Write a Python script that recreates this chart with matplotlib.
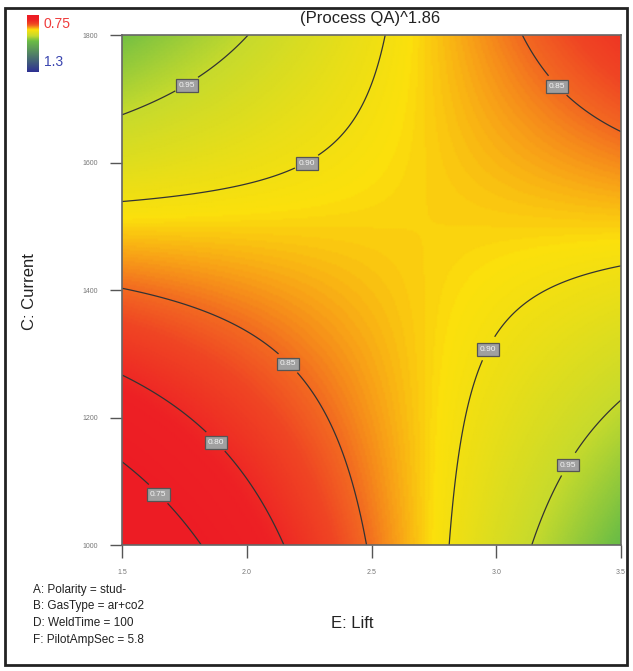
import numpy as np
import matplotlib
matplotlib.use("Agg")
import matplotlib.pyplot as plt
from matplotlib.colors import LinearSegmentedColormap, Normalize
from matplotlib.patches import Rectangle

plt.rcParams['font.family'] = ['Liberation Sans', 'DejaVu Sans']

# fitted 2FI model in coded units (E: Lift, C: Current)
coef_names = ['Intercept', 'E', 'C', 'CE']
coef_values = [0.879, 0.030, 0.026, -0.121]

lift_range = [1.5, 3.5]
current_range = [1000, 1800]
x_ticks = [1.5, 2.0, 2.5, 3.0, 3.5]
y_ticks = [1000, 1200, 1400, 1600, 1800]

contour_levels = [0.75, 0.80, 0.85, 0.90, 0.95]
label_spots = [(1.66, 1086), (1.89, 1168), (2.17, 1287), (3.26, 1726),
               (2.24, 1601), (2.98, 1306), (1.75, 1729), (3.28, 1129)]

factor_settings = ['A: Polarity = stud-', 'B: GasType = ar+co2',
                   'D: WeldTime = 100', 'F: PilotAmpSec = 5.8']

legend_low, legend_high = 0.75, 1.3

# colour ramp, value -> colour
ramp_values = [0.75, 0.79, 0.83, 0.85, 0.87, 0.89, 0.95, 1.00, 1.30]
ramp_colors = ['#ed1c24', '#ed2024', '#ef4523', '#f26a21', '#f8a516',
               '#fbe00c', '#c6da2d', '#6cbd45', '#2e3192']
pos = [(v - legend_low) / (legend_high - legend_low) for v in ramp_values]
cmap = LinearSegmentedColormap.from_list('de', list(zip(pos, ramp_colors)))
norm = Normalize(legend_low, legend_high)

x = np.linspace(*lift_range, 300)
y = np.linspace(*current_range, 300)
X, Y = np.meshgrid(x, y)
Xc = (X - 2.5) / 1.0
Yc = (Y - 1400) / 400.0
b0, bE, bC, bCE = coef_values
Z = b0 + bE * Xc + bC * Yc + bCE * Xc * Yc

fig = plt.figure(figsize=(6.33, 6.71), dpi=100)
ax = fig.add_axes([122 / 633, 1 - 545 / 671, 499 / 633, 510 / 671])
ax.pcolormesh(X, Y, Z, cmap=cmap, norm=norm, shading='gouraud')
cs = ax.contour(X, Y, Z, levels=contour_levels, colors='#333333', linewidths=0.9)
labels = ax.clabel(cs, fmt='%.2f', fontsize=6, manual=label_spots, inline=True)
for t in labels:
    t.set_rotation(0)
    t.set_verticalalignment('center_baseline')
    t.set_color('#f4f4f4')
    t.set_bbox(dict(boxstyle='square,pad=0.35', fc='#a0a0a0', ec='#555555', lw=0.9))

ax.set_xlim(*lift_range)
ax.set_ylim(*current_range)
ax.set_xticks(x_ticks)
ax.set_xticklabels(['%.1f' % v for v in x_ticks])
ax.set_yticks(y_ticks)
ax.tick_params(direction='out', length=9, width=1, color='#555555',
               labelsize=5, labelcolor='#777777', pad=8)
for s in ax.spines.values():
    s.set_color('#666666')
    s.set_linewidth(1.2)

fig.text(370 / 633, 1 - 18 / 671, '(Process QA)^1.86', fontsize=12,
         ha='center', va='center', color='#222222')
fig.text(352 / 633, 1 - 623 / 671, 'E: Lift', fontsize=12,
         ha='center', va='center', color='#222222')
fig.text(30 / 633, 1 - 292 / 671, 'C: Current', fontsize=12, rotation=90,
         ha='center', va='center', color='#222222')

for i, line in enumerate(factor_settings):
    fig.text(33 / 633, 1 - (590 + 16.5 * i) / 671, line, fontsize=8.5,
             va='center', ha='left', color='#222222')

# colour legend
lax = fig.add_axes([27 / 633, 1 - 72 / 671, 12 / 633, 57 / 671])
lax.imshow(np.linspace(0, 1, 100)[:, None], cmap=cmap, aspect='auto')
lax.set_xticks([])
lax.set_yticks([])
for s in lax.spines.values():
    s.set_visible(False)
fig.text(44 / 633, 1 - 24 / 671, '0.75', color='#ef3b3b', fontsize=10, va='center')
fig.text(44 / 633, 1 - 62 / 671, '1.3', color='#3a45b0', fontsize=10, va='center')

fig.patches.append(Rectangle((5 / 633, 1 - 665 / 671), 622 / 633, 657 / 671,
                             transform=fig.transFigure, fill=False,
                             ec='#222222', lw=2))

fig.savefig('out.png', dpi=100)
